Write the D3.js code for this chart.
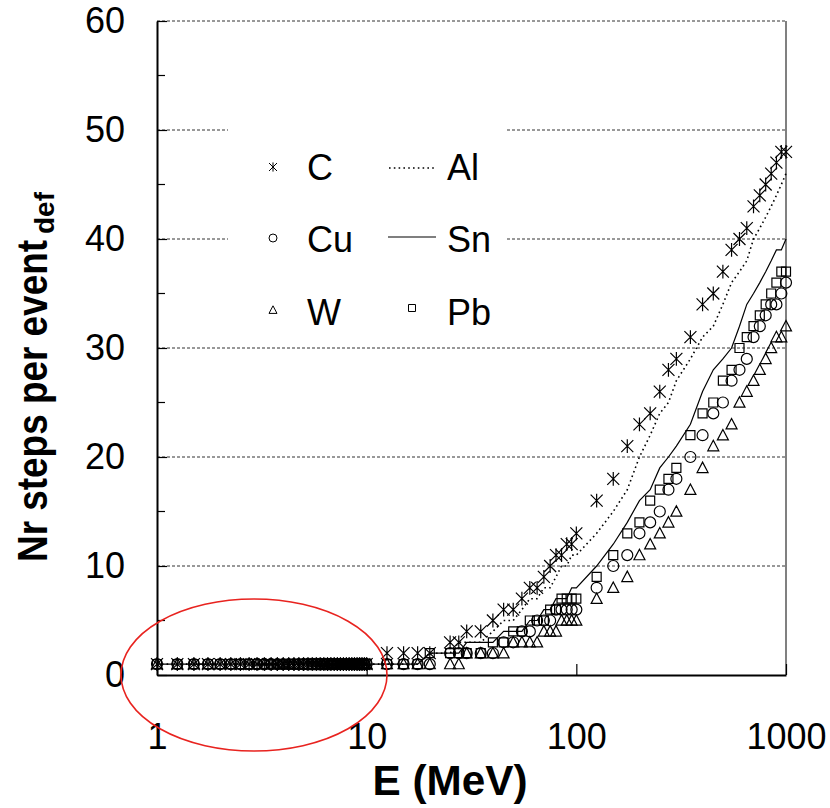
<!DOCTYPE html>
<html>
<head>
<meta charset="utf-8">
<script src="https://cdn.jsdelivr.net/npm/d3@7"></script>
<style>
  html, body { margin: 0; padding: 0; background: #fff; }
  svg { display: block; font-family: "Liberation Sans", Arial, sans-serif; }
</style>
</head>
<body>
<svg id="chart" width="830" height="808"></svg>
<script>
// Beam energies (MeV) at which the number of steps was recorded
const energyMeV = [
  1, 1.25, 1.5, 1.75, 2, 2.25, 2.5, 2.75, 3, 3.25,
  3.5, 3.75, 4, 4.25, 4.5, 4.75, 5, 5.25, 5.5, 5.75,
  6, 6.25, 6.5, 6.75, 7, 7.25, 7.5, 7.75, 8, 8.25,
  8.5, 8.75, 9, 9.25, 9.5, 9.75, 10,
  12.5, 15, 17.5, 20, 25, 27.5, 30,
  35, 40, 45, 50, 55, 60, 65, 70, 75, 80, 85, 90, 95, 100,
  125, 150, 175, 200, 225, 250, 275, 300,
  350, 400, 450, 500, 550, 600, 650, 700, 750, 800, 850, 900, 950, 1000
];

// Average number of steps per event, one array per target material
const stepsC = [
  1, 1, 1, 1, 1, 1, 1, 1, 1, 1,
  1, 1, 1, 1, 1, 1, 1, 1, 1, 1,
  1, 1, 1, 1, 1, 1, 1, 1, 1, 1,
  1, 1, 1, 1, 1, 1, 1,
  2, 2, 2, 2, 3, 3, 4,
  4, 5, 6, 6, 7, 8, 8, 9, 10, 11, 11, 12, 12, 13,
  16, 18, 21, 23, 24, 26, 28, 29,
  31, 34, 35, 37, 39, 40, 41, 43, 44, 45, 46, 47, 48, 48
];
const stepsAl = [
  1, 1, 1, 1, 1, 1, 1, 1, 1, 1,
  1, 1, 1, 1, 1, 1, 1, 1, 1, 1,
  1, 1, 1, 1, 1, 1, 1, 1, 1, 1,
  1, 1, 1, 1, 1, 1, 1,
  1, 1, 1, 2, 2, 3, 3,
  3, 4, 5, 5, 6, 7, 7, 8, 8, 9, 10, 10, 11, 11,
  13, 15, 17, 20, 22, 24, 25, 27,
  29, 31, 32, 34, 36, 37, 38, 40, 41, 42, 43, 44, 45, 46
];
const stepsCu = [
  1, 1, 1, 1, 1, 1, 1, 1, 1, 1,
  1, 1, 1, 1, 1, 1, 1, 1, 1, 1,
  1, 1, 1, 1, 1, 1, 1, 1, 1, 1,
  1, 1, 1, 1, 1, 1, 1,
  1, 1, 1, 1, 2, 2, 2,
  2, 2, 3, 3, 4, 4, 5, 5, 5, 6, 6, 6, 6, 6,
  8, 10, 11, 13, 14, 15, 17, 18,
  20, 22, 24, 25, 27, 28, 29, 31, 32, 33, 34, 34, 35, 36
];
const stepsSn = [
  1, 1, 1, 1, 1, 1, 1, 1, 1, 1,
  1, 1, 1, 1, 1, 1, 1, 1, 1, 1,
  1, 1, 1, 1, 1, 1, 1, 1, 1, 1,
  1, 1, 1, 1, 1, 1, 1,
  1, 1, 1, 2, 2, 2, 3,
  3, 3, 4, 4, 4, 5, 5, 6, 6, 7, 7, 7, 8, 8,
  10, 12, 14, 16, 17, 19, 20, 21,
  23, 26, 28, 29, 30, 32, 34, 35, 36, 37, 38, 39, 39, 40
];
const stepsW = [
  1, 1, 1, 1, 1, 1, 1, 1, 1, 1,
  1, 1, 1, 1, 1, 1, 1, 1, 1, 1,
  1, 1, 1, 1, 1, 1, 1, 1, 1, 1,
  1, 1, 1, 1, 1, 1, 1,
  1, 1, 1, 1, 1, 1, 2,
  2, 2, 2, 3, 3, 3, 3, 4, 4, 4, 5, 5, 5, 5,
  7, 8, 9, 11, 12, 13, 14, 15,
  17, 19, 21, 22, 23, 25, 26, 27, 28, 29, 30, 31, 31, 32
];
const stepsPb = [
  1, 1, 1, 1, 1, 1, 1, 1, 1, 1,
  1, 1, 1, 1, 1, 1, 1, 1, 1, 1,
  1, 1, 1, 1, 1, 1, 1, 1, 1, 1,
  1, 1, 1, 1, 1, 1, 1,
  1, 1, 1, 2, 2, 2, 2,
  2, 3, 3, 4, 4, 5, 5, 5, 6, 6, 7, 7, 7, 7,
  9, 11, 13, 14, 16, 17, 18, 19,
  22, 24, 25, 27, 28, 30, 31, 32, 33, 34, 35, 36, 37, 37
];

// Axis ticks
const xTicks = [1, 10, 100, 1000];
const yMajorTicks = [0, 10, 20, 30, 40, 50, 60];
const yMinorTicks = [5, 15, 25, 35, 45, 55];

const svg = d3.select("#chart");

const x = d3.scaleLog().domain([1, 1000]).range([157, 786]);
const y = d3.scaleLinear().domain([0, 60]).range([675, 21]);

// Dashed horizontal grid
svg.append("g")
  .selectAll("line")
  .data(yMajorTicks.filter(v => v > 0))
  .join("line")
  .attr("x1", x(1)).attr("x2", x(1000))
  .attr("y1", d => y(d)).attr("y2", d => y(d))
  .attr("stroke", "#333").attr("stroke-width", 1)
  .attr("stroke-dasharray", "3,2");

// Right frame edge
svg.append("line")
  .attr("x1", x(1000)).attr("x2", x(1000))
  .attr("y1", y(60)).attr("y2", y(0))
  .attr("stroke", "#808080").attr("stroke-width", 2);

// Legend panel masks the grid behind it
svg.append("rect")
  .attr("x", 228).attr("y", 110).attr("width", 279).attr("height", 228)
  .attr("fill", "#fff");

// Y axis
const yAxis = d3.axisLeft(y)
  .tickValues(yMajorTicks)
  .tickSize(-10)
  .tickSizeOuter(0)
  .tickPadding(32)
  .tickFormat(d3.format("d"));
const gy = svg.append("g").attr("transform", `translate(${x(1)},0)`).call(yAxis);
gy.select(".domain").attr("stroke", "#000").attr("stroke-width", 2);
gy.selectAll(".tick line").attr("stroke", "#000").attr("stroke-width", 1.2);
gy.selectAll(".tick text").attr("font-size", 36).attr("fill", "#000")
  .attr("font-family", "Liberation Sans, Arial, sans-serif");

// Minor y ticks
svg.append("g")
  .selectAll("line")
  .data(yMinorTicks)
  .join("line")
  .attr("x1", x(1)).attr("x2", x(1) + 8)
  .attr("y1", d => y(d)).attr("y2", d => y(d))
  .attr("stroke", "#000").attr("stroke-width", 1.2);

// X axis
const xAxis = d3.axisBottom(x)
  .tickValues(xTicks)
  .tickSize(-11)
  .tickSizeOuter(0)
  .tickPadding(48)
  .tickFormat(d3.format("d"));
const gx = svg.append("g").attr("transform", `translate(0,${y(0)})`).call(xAxis);
gx.select(".domain").attr("stroke", "#000").attr("stroke-width", 2);
gx.selectAll(".tick line").attr("stroke", "#000").attr("stroke-width", 1.2);
gx.selectAll(".tick text").attr("font-size", 36).attr("fill", "#000")
  .attr("font-family", "Liberation Sans, Arial, sans-serif");

// Axis titles
svg.append("text")
  .attr("x", 450).attr("y", 795)
  .attr("text-anchor", "middle")
  .attr("font-size", 42).attr("font-weight", "bold")
  .attr("textLength", 155).attr("lengthAdjust", "spacingAndGlyphs")
  .text("E (MeV)");

const yTitle = svg.append("g").attr("transform", "translate(47,562) rotate(-90)");
yTitle.append("text")
  .attr("x", 0).attr("y", 0)
  .attr("font-size", 42).attr("font-weight", "bold")
  .attr("textLength", 322).attr("lengthAdjust", "spacingAndGlyphs")
  .text("Nr steps per event");
yTitle.append("text")
  .attr("x", 328).attr("y", 7)
  .attr("font-size", 28).attr("font-weight", "bold")
  .attr("textLength", 42).attr("lengthAdjust", "spacingAndGlyphs")
  .text("def");

// Series table
const rows = energyMeV.map((e, i) => ({
  e, C: stepsC[i], Al: stepsAl[i], Cu: stepsCu[i], Sn: stepsSn[i], W: stepsW[i], Pb: stepsPb[i]
}));

// Marker shapes
function markerPath(kind, s) {
  const h = s / 2;
  switch (kind) {
    case "star":
      return `M${-h},${-h}L${h},${h}M${-h},${h}L${h},${-h}M0,${-h * 1.15}L0,${h * 1.15}`;
    case "circle":
      return `M${h},0A${h},${h} 0 1,1 ${-h},0A${h},${h} 0 1,1 ${h},0Z`;
    case "triangle":
      return `M0,${-h * 1.05}L${h},${h * 0.85}L${-h},${h * 0.85}Z`;
    case "square":
      return `M${-h},${-h}H${h}V${h}H${-h}Z`;
  }
}

const lineGen = key => d3.line().x(d => x(d.e)).y(d => y(d[key]));

// Line series
svg.append("path").datum(rows)
  .attr("d", lineGen("Al"))
  .attr("fill", "none").attr("stroke", "#000").attr("stroke-width", 1.6)
  .attr("stroke-dasharray", "1.6,3.2");
svg.append("path").datum(rows)
  .attr("d", lineGen("Sn"))
  .attr("fill", "none").attr("stroke", "#000").attr("stroke-width", 1.2);

// Marker series
const markerSeries = [
  { key: "C", kind: "star", size: 12 },
  { key: "Cu", kind: "circle", size: 11 },
  { key: "W", kind: "triangle", size: 11 },
  { key: "Pb", kind: "square", size: 9 }
];
markerSeries.forEach(s => {
  svg.append("g")
    .selectAll("path")
    .data(rows)
    .join("path")
    .attr("transform", d => `translate(${x(d.e)},${y(d[s.key])})`)
    .attr("d", markerPath(s.kind, s.size))
    .attr("fill", "none").attr("stroke", "#000").attr("stroke-width", 1.2);
});

// Legend
const legendText = [
  { label: "C", tx: 307, ty: 180 },
  { label: "Al", tx: 447, ty: 180 },
  { label: "Cu", tx: 307, ty: 252 },
  { label: "Sn", tx: 447, ty: 252 },
  { label: "W", tx: 307, ty: 325 },
  { label: "Pb", tx: 447, ty: 325 }
];
const lg = svg.append("g");
lg.selectAll("text").data(legendText).join("text")
  .attr("x", d => d.tx).attr("y", d => d.ty)
  .attr("font-size", 36).attr("fill", "#000")
  .text(d => d.label);
lg.append("path").attr("transform", "translate(273,167)")
  .attr("d", markerPath("star", 8)).attr("fill", "none").attr("stroke", "#000").attr("stroke-width", 1);
lg.append("path").attr("transform", "translate(273,238)")
  .attr("d", markerPath("circle", 8)).attr("fill", "none").attr("stroke", "#000").attr("stroke-width", 1);
lg.append("path").attr("transform", "translate(273,310)")
  .attr("d", markerPath("triangle", 8)).attr("fill", "none").attr("stroke", "#000").attr("stroke-width", 1);
lg.append("path").attr("transform", "translate(412,308)")
  .attr("d", markerPath("square", 7)).attr("fill", "none").attr("stroke", "#000").attr("stroke-width", 1);
lg.append("line").attr("x1", 389).attr("x2", 434).attr("y1", 168).attr("y2", 168)
  .attr("stroke", "#000").attr("stroke-width", 1.6).attr("stroke-dasharray", "1.6,3.2");
lg.append("line").attr("x1", 388).attr("x2", 436).attr("y1", 237).attr("y2", 237)
  .attr("stroke", "#000").attr("stroke-width", 1.2);

// Highlight around the low-energy plateau
svg.append("ellipse")
  .attr("cx", 254).attr("cy", 675).attr("rx", 133).attr("ry", 76)
  .attr("fill", "none").attr("stroke", "#e8231f").attr("stroke-width", 1.6);
</script>
</body>
</html>
